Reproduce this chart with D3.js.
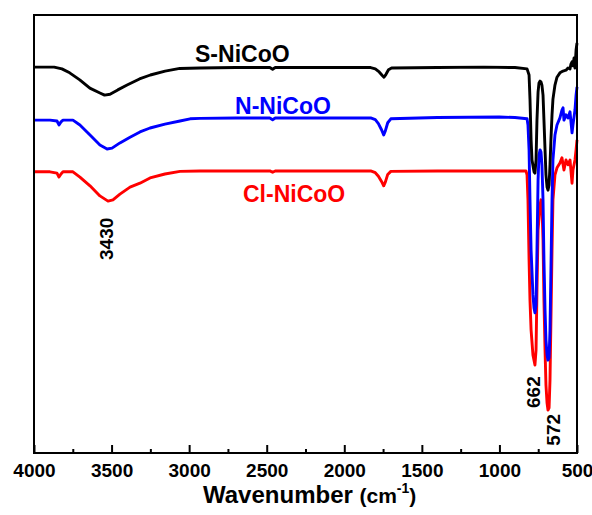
<!DOCTYPE html>
<html>
<head>
<meta charset="utf-8">
<script src="https://cdn.jsdelivr.net/npm/d3@7"></script>
<style>
body{margin:0;background:#fff;}
text{font-family:Arial,"Liberation Sans",sans-serif;font-weight:bold;}
</style>
</head>
<body>
<svg id="ftir"></svg>
<script>
// x axis ticks (wavenumber, cm-1)
var xTicks = [4000,3500,3000,2500,2000,1500,1000,500]
var xMinorTicks = [3750,3250,2750,2250,1750,1250,750]

var seriesNames = ["S-NiCoO","N-NiCoO","Cl-NiCoO"]
var seriesColors = ["#000000","#0000ff","#ff0000"]

// [wavenumber, transmittance (a.u.)]
var sNiCoO = [[4000,88.1],[3870,88.1],[3820,87.7],[3770,86.8],[3705,85.2],[3640,83.3],[3575,82.2],[3545,81.7],[3510,81.9],[3460,82.9],[3400,84.0],[3320,85.4],[3250,86.3],[3155,87.2],[3060,87.8],[2930,87.9],[2700,88.0],[2480,88.0],[2462,87.6],[2445,88.0],[2100,88.0],[1830,88.0],[1800,87.7],[1775,87.0],[1755,86.2],[1744,85.8],[1732,86.4],[1715,87.5],[1695,87.9],[1400,88.0],[1100,88.1],[900,88.0],[822,87.7],[809,86.3],[803,80.8],[796,71.5],[790,66.9],[777,64.2],[771,63.9],[764,66.9],[758,76.0],[751,82.4],[745,84.5],[738,84.9],[732,84.7],[726,84.0],[719,81.7],[713,76.0],[706,69.2],[700,63.5],[693,60.7],[687,60.0],[680,61.2],[674,65.8],[668,71.5],[661,77.2],[655,80.8],[642,84.0],[629,85.8],[610,86.8],[590,87.2],[571,87.4],[558,87.9],[545,87.7],[539,88.8],[532,89.3],[526,88.4],[519,90.2],[513,87.9],[506,92.0],[500,93.6]]

var nNiCoO = [[4000,76.0],[3897,76.0],[3852,75.8],[3839,74.9],[3826,75.6],[3813,76.0],[3749,76.0],[3704,74.9],[3639,72.6],[3575,70.3],[3529,69.4],[3497,69.6],[3446,70.8],[3381,72.1],[3317,73.3],[3252,74.2],[3156,75.1],[3059,75.8],[2994,76.3],[2930,76.4],[2700,76.5],[2480,76.5],[2462,76.1],[2445,76.5],[2100,76.5],[1830,76.5],[1800,76.1],[1780,75.2],[1760,73.8],[1746,72.6],[1735,73.6],[1720,75.4],[1700,76.3],[1400,76.6],[1000,76.7],[900,76.6],[822,76.3],[816,74.9],[809,69.2],[803,57.8],[796,46.3],[784,36.1],[777,33.1],[771,32.0],[764,33.8],[758,46.3],[751,62.3],[745,68.0],[738,69.2],[732,68.7],[726,65.8],[719,57.8],[713,44.1],[706,32.6],[700,25.8],[693,22.4],[687,21.2],[680,21.7],[674,28.1],[668,41.8],[661,57.8],[655,66.9],[642,72.6],[629,74.9],[610,76.5],[597,78.3],[590,78.8],[584,76.0],[571,77.2],[558,76.5],[545,77.9],[532,73.1],[526,74.9],[513,78.3],[506,81.7],[500,83.6]]

var clNiCoO = [[4000,64.2],[3897,64.2],[3852,63.9],[3839,63.0],[3826,63.7],[3813,64.2],[3749,64.2],[3704,63.0],[3639,61.0],[3575,58.7],[3523,57.5],[3491,57.8],[3446,59.1],[3381,60.7],[3317,61.6],[3252,62.8],[3156,63.7],[3059,64.3],[2930,64.4],[2700,64.4],[2480,64.4],[2462,64.1],[2445,64.4],[2100,64.4],[1830,64.4],[1800,64.0],[1780,63.2],[1760,62.0],[1746,61.0],[1735,61.9],[1720,63.6],[1700,64.3],[1400,64.4],[1000,64.4],[900,64.4],[829,64.4],[822,63.5],[816,57.8],[809,44.1],[803,34.9],[796,28.1],[784,22.4],[771,20.1],[764,23.5],[758,37.2],[751,50.9],[738,56.6],[732,57.8],[726,56.6],[719,48.6],[713,34.9],[706,23.5],[700,15.5],[693,11.4],[687,9.8],[680,10.3],[674,16.7],[668,30.4],[661,46.3],[655,57.8],[642,63.5],[629,65.1],[610,66.2],[597,67.4],[584,64.6],[571,66.9],[558,65.8],[545,66.9],[532,61.6],[526,64.6],[513,66.9],[506,69.2],[500,71.5]]

// series name labels [wavenumber, value]
var nameSpots = [[2962,89.3],[2704,77.4],[2653,57.3]]
// peak annotations
var peakTexts = ["3430","662","572"]
var peakSpots = [[3491,48.9],[738,13.9],[610,5.3]]

var screen = {width:592, height:515}
var margins = {top:15, bottom:62, left:34, right:15}
var graph = {
    width:screen.width-margins.left-margins.right,
    height:screen.height-margins.top-margins.bottom
}

var svg = d3.select("#ftir")
    .attr("width", screen.width)
    .attr("height", screen.height)

var xScale = d3.scaleLinear()
    .domain([4000,500])
    .range([0,graph.width])
var yScale = d3.scaleLinear()
    .domain([0,100])
    .range([graph.height,0])

var g = svg.append("g")
    .classed("graph", true)
    .attr("transform", "translate("+margins.left+","+margins.top+")")

// draw red first, black on top
var allSeries = [sNiCoO, nNiCoO, clNiCoO]
var lineGenerator = d3.line()
    .x(function(d){return xScale(d[0])})
    .y(function(d){return yScale(d[1])})

var order = [2,1,0]
order.forEach(function(i)
{
    g.append("path")
        .datum(allSeries[i])
        .attr("d", lineGenerator)
        .attr("fill", "none")
        .attr("stroke", seriesColors[i])
        .attr("stroke-width", 2.9)
        .attr("stroke-linejoin", "round")
})

// frame
g.append("rect")
    .attr("x", 0)
    .attr("y", 0)
    .attr("width", graph.width)
    .attr("height", graph.height)
    .attr("fill", "none")
    .attr("stroke", "#000")
    .attr("stroke-width", 2)

var xAxis = d3.axisBottom(xScale)
    .tickValues(xTicks)
    .tickSize(-8)
    .tickPadding(11)
    .tickFormat(d3.format("d"))
var xMinor = d3.axisBottom(xScale)
    .tickValues(xMinorTicks)
    .tickSize(-4)
    .tickFormat("")

var axisG = g.append("g")
    .attr("transform", "translate(0,"+graph.height+")")
    .call(xAxis)
axisG.select(".domain").remove()
axisG.selectAll(".tick line").attr("stroke-width", 2)
axisG.selectAll("text")
    .attr("font-size", 19)
    .attr("font-family", "Arial, 'Liberation Sans', sans-serif")
    .attr("font-weight", "bold")
    .attr("fill", "#000")

var minorG = g.append("g")
    .attr("transform", "translate(0,"+graph.height+")")
    .call(xMinor)
minorG.select(".domain").remove()
minorG.selectAll(".tick line").attr("stroke-width", 2)

// series names
g.selectAll(".name")
    .data(seriesNames)
    .enter()
    .append("text")
    .classed("name", true)
    .text(function(d){return d})
    .attr("x", function(d,i){return xScale(nameSpots[i][0])})
    .attr("y", function(d,i){return yScale(nameSpots[i][1])})
    .attr("font-size", 23)
    .attr("fill", function(d,i){return seriesColors[i]})

// peak annotations, rotated
g.selectAll(".peak")
    .data(peakTexts)
    .enter()
    .append("text")
    .classed("peak", true)
    .text(function(d){return d})
    .attr("font-size", 19)
    .attr("text-anchor", "middle")
    .attr("transform", function(d,i)
    {
        return "translate("+xScale(peakSpots[i][0])+","+yScale(peakSpots[i][1])+") rotate(-90)"
    })

// axis title
var title = svg.append("text")
    .attr("x", 203)
    .attr("y", 503)
    .attr("font-size", 24)
title.append("tspan").text("Wavenumber ")
title.append("tspan").text("(cm").attr("font-size", 21)
title.append("tspan").text("-1").attr("font-size", 14).attr("dy", -10)
title.append("tspan").text(")").attr("font-size", 21).attr("dy", 10)
</script>
</body>
</html>
